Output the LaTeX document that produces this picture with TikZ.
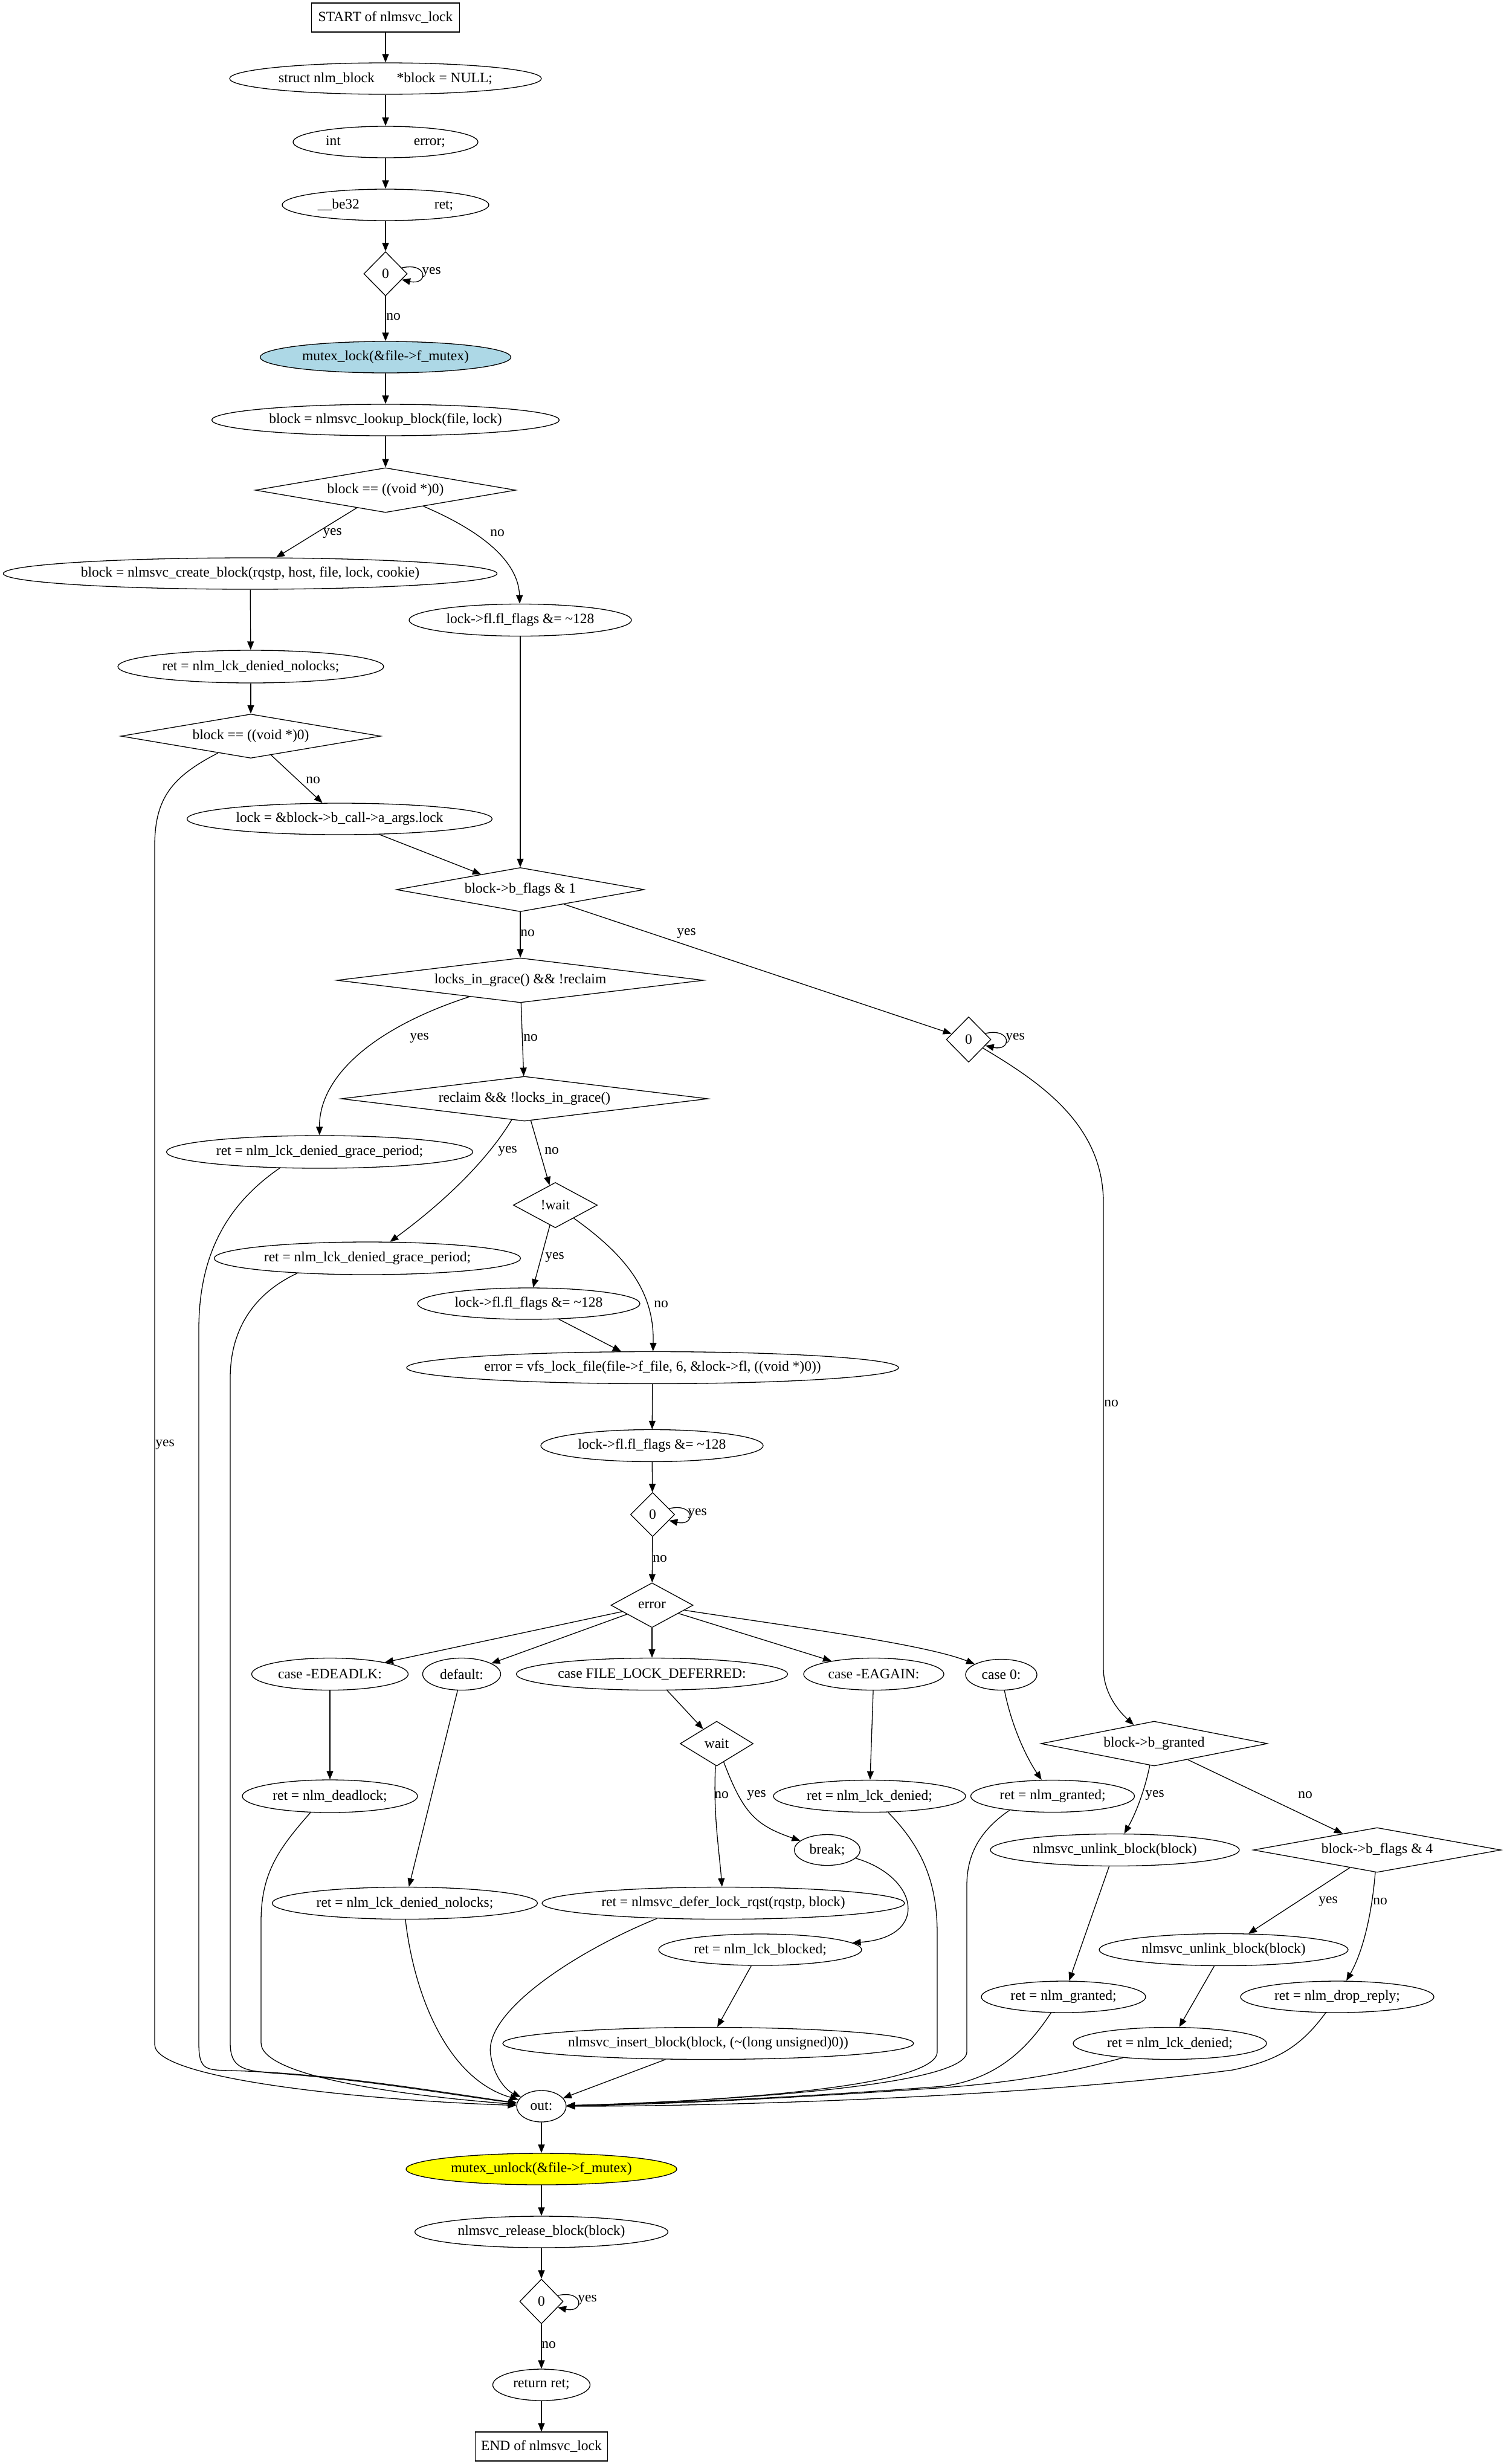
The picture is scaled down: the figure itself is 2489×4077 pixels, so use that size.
\documentclass[tikz,border=0pt]{standalone}
\usepackage{fontspec}
\setmainfont{Liberation Serif}
\usetikzlibrary{shapes.geometric,arrows.meta}
\definecolor{lblue}{HTML}{ADD8E6}
\definecolor{yel}{HTML}{FFFF00}
\begin{document}
\begin{tikzpicture}[x=1pt,y=-1pt,
  font=\fontsize{23.5}{27}\selectfont,
  line width=1.3pt,
  ell/.style={ellipse, draw, inner sep=0pt, minimum height=52pt},
  boxn/.style={rectangle, draw, inner sep=0pt},
  dia/.style={diamond, draw, inner sep=0pt},
  lbl/.style={inner sep=0pt},
  arr/.style={-{Triangle[length=14pt,width=11pt]}}]
\useasboundingbox (0,0) rectangle (2489,4077);

% ---- nodes ----
\node[boxn, minimum width=245pt, minimum height=48pt] (n1) at (638,29) {START of nlmsvc\_lock};
\node[ell, minimum width=516pt] (n2) at (638,130) {struct nlm\_block\hspace{37pt}*block = NULL;};
\node[ell, minimum width=306pt] (n3) at (638,235) {int\hspace{121pt}error;};
\node[ell, minimum width=342pt] (n4) at (638,339) {\_\_be32\hspace{124pt}ret;};
\node[dia, minimum width=72pt, minimum height=73pt] (n5) at (638,453) {0};
\node[ell, minimum width=415pt, fill=lblue] (n6) at (638,591) {mutex\_lock(\&file->f\_mutex)};
\node[ell, minimum width=575pt] (n7) at (638,695) {block = nlmsvc\_lookup\_block(file, lock)};
\node[dia, minimum width=431pt, minimum height=74pt, aspect=5.8] (d1) at (638,811) {block == ((void *)0)};
\node[ell, minimum width=817pt] (create) at (414,949) {block = nlmsvc\_create\_block(rqstp, host, file, lock, cookie)};
\node[ell, minimum width=368pt, minimum height=53pt] (flagsA) at (861,1026) {lock->fl.fl\_flags \&= \textasciitilde128};
\node[ell, minimum width=440pt, minimum height=54pt] (nolocksA) at (415,1103) {ret = nlm\_lck\_denied\_nolocks;};
\node[dia, minimum width=430pt, minimum height=73pt, aspect=5.9] (d2) at (415,1218) {block == ((void *)0)};
\node[ell, minimum width=505pt] (lockargs) at (562,1355) {lock = \&block->b\_call->a\_args.lock};
\node[dia, minimum width=410pt, minimum height=73pt, aspect=5.6] (d3) at (861,1472) {block->b\_flags \& 1};
\node[dia, minimum width=607pt, minimum height=74pt, aspect=8.2] (d4) at (861,1622) {locks\_in\_grace() \&\& !reclaim};
\node[dia, minimum width=74pt, minimum height=75pt] (dz2) at (1603,1720) {0};
\node[dia, minimum width=607pt, minimum height=74pt, aspect=8.2] (d5) at (868,1818) {reclaim \&\& !locks\_in\_grace()};
\node[ell, minimum width=507pt, minimum height=54pt] (grace1) at (529,1906) {ret = nlm\_lck\_denied\_grace\_period;};
\node[dia, minimum width=139pt, minimum height=75pt, aspect=1.85] (nwait) at (919,1994) {!wait};
\node[ell, minimum width=507pt, minimum height=54pt] (grace2) at (608,2082) {ret = nlm\_lck\_denied\_grace\_period;};
\node[ell, minimum width=368pt] (flagsB) at (875,2157) {lock->fl.fl\_flags \&= \textasciitilde128};
\node[ell, minimum width=814pt, minimum height=53pt] (vfs) at (1080,2263) {error = vfs\_lock\_file(file->f\_file, 6, \&lock->fl, ((void *)0))};
\node[ell, minimum width=368pt, minimum height=53pt] (flagsC) at (1079,2392) {lock->fl.fl\_flags \&= \textasciitilde128};
\node[dia, minimum width=73pt, minimum height=73pt] (dz3) at (1080,2506) {0};
\node[dia, minimum width=136pt, minimum height=74pt, aspect=1.84] (derr) at (1079,2656) {error};
\node[ell, minimum width=259pt, minimum height=53pt] (cdead) at (546,2770) {case -EDEADLK:};
\node[ell, minimum width=129pt, minimum height=53pt] (cdef) at (764,2770) {default:};
\node[ell, minimum width=449pt, minimum height=53pt] (cfld) at (1079,2770) {case FILE\_LOCK\_DEFERRED:};
\node[ell, minimum width=232pt, minimum height=53pt] (ceag) at (1446,2770) {case -EAGAIN:};
\node[ell, minimum width=118pt, minimum height=51pt] (czero) at (1657,2771) {case 0:};
\node[dia, minimum width=121pt, minimum height=74pt, aspect=1.64] (dwait) at (1186,2885) {wait};
\node[dia, minimum width=375pt, minimum height=74pt, aspect=5.07] (bgr) at (1910,2885) {block->b\_granted};
\node[ell, minimum width=290pt, minimum height=54pt] (rdead) at (546,2972) {ret = nlm\_deadlock;};
\node[ell, minimum width=318pt, minimum height=53pt] (rdenA) at (1439,2972) {ret = nlm\_lck\_denied;};
\node[ell, minimum width=271pt, minimum height=53pt] (rgrA) at (1742,2972) {ret = nlm\_granted;};
\node[ell, minimum width=109pt, minimum height=51pt] (brk) at (1369,3061) {break;};
\node[ell, minimum width=412pt, minimum height=53pt] (unlA) at (1845,3061) {nlmsvc\_unlink\_block(block)};
\node[dia, minimum width=410pt, minimum height=74pt, aspect=5.54] (df4) at (2279,3061) {block->b\_flags \& 4};
\node[ell, minimum width=439pt, minimum height=53pt] (nolocksB) at (670,3149) {ret = nlm\_lck\_denied\_nolocks;};
\node[ell, minimum width=600pt, minimum height=53pt] (defer) at (1197,3149) {ret = nlmsvc\_defer\_lock\_rqst(rqstp, block)};
\node[ell, minimum width=336pt] (blocked) at (1258,3226) {ret = nlm\_lck\_blocked;};
\node[ell, minimum width=412pt, minimum height=53pt] (unlB) at (2025,3226) {nlmsvc\_unlink\_block(block)};
\node[ell, minimum width=272pt] (rgrB) at (1760,3304) {ret = nlm\_granted;};
\node[ell, minimum width=320pt] (rdrop) at (2213,3304) {ret = nlm\_drop\_reply;};
\node[ell, minimum width=680pt, minimum height=53pt] (insert) at (1172,3381) {nlmsvc\_insert\_block(block, (\textasciitilde(long unsigned)0))};
\node[ell, minimum width=320pt, minimum height=53pt] (rdenB) at (1936,3381) {ret = nlm\_lck\_denied;};
\node[ell, minimum width=82pt] (out) at (896,3485) {out:};
\node[ell, minimum width=448pt, fill=yel] (unlock) at (896,3589) {mutex\_unlock(\&file->f\_mutex)};
\node[ell, minimum width=419pt] (release) at (896,3693) {nlmsvc\_release\_block(block)};
\node[dia, minimum width=72pt, minimum height=74pt] (dz4) at (896,3808) {0};
\node[ell, minimum width=161pt] (retn) at (896,3946) {return ret;};
\node[boxn, minimum width=219pt, minimum height=48pt] (nend) at (896,4048) {END of nlmsvc\_lock};

% ---- labels ----
\node[lbl] (l1) at (714,450) {yes};
\node[lbl] (l2) at (651,524) {no};
\node[lbl] (l3) at (550,882) {yes};
\node[lbl] (l4) at (823,882) {no};
\node[lbl] (l5) at (518,1291) {no};
\node[lbl] (l6) at (273,2390) {yes};
\node[lbl] (l7) at (873,1544) {no};
\node[lbl] (l8) at (1136,1544) {yes};
\node[lbl] (l9) at (1680,1717) {yes};
\node[lbl] (l10) at (694,1717) {yes};
\node[lbl] (l11) at (878,1717) {no};
\node[lbl] (l12) at (840,1904) {yes};
\node[lbl] (l13) at (913,1904) {no};
\node[lbl] (l14) at (918,2080) {yes};
\node[lbl] (l15) at (1094,2158) {no};
\node[lbl] (l16) at (1839,2322) {no};
\node[lbl] (l17) at (1154,2504) {yes};
\node[lbl] (l18) at (1092,2579) {no};
\node[lbl] (l19) at (1194,2970) {no};
\node[lbl] (l20) at (1252,2970) {yes};
\node[lbl] (l21) at (1911,2970) {yes};
\node[lbl] (l22) at (2160,2970) {no};
\node[lbl] (l23) at (2198,3146) {yes};
\node[lbl] (l24) at (2284,3146) {no};
\node[lbl] (l25) at (972,3805) {yes};
\node[lbl] (l26) at (908,3880) {no};

% ---- straight connectors ----
\draw[arr] (n1) -- (n2);
\draw[arr] (n2) -- (n3);
\draw[arr] (n3) -- (n4);
\draw[arr] (n4) -- (n5);
\draw[arr] (n5) -- (n6);
\draw[arr] (n6) -- (n7);
\draw[arr] (n7) -- (d1);
\draw[arr] (d1) -- (create);
\draw[arr] (create) -- (nolocksA);
\draw[arr] (nolocksA) -- (d2);
\draw[arr] (d2) -- (lockargs);
\draw[arr] (flagsA) -- (d3);
\draw[arr] (lockargs) -- (d3);
\draw[arr] (d3) -- (d4);
\draw[arr] (d3) -- (dz2);
\draw[arr] (d4) -- (d5);
\draw[arr] (d5) -- (nwait);
\draw[arr] (nwait) -- (flagsB);
\draw[arr] (flagsB) -- (vfs);
\draw[arr] (vfs) -- (flagsC);
\draw[arr] (flagsC) -- (dz3);
\draw[arr] (dz3) -- (derr);
\draw[arr] (derr) -- (cdead);
\draw[arr] (derr) -- (cdef);
\draw[arr] (derr) -- (cfld);
\draw[arr] (derr) -- (ceag);
\draw[arr] (cfld) -- (dwait);
\draw[arr] (cdead) -- (rdead);
\draw[arr] (cdef) -- (nolocksB);
\draw[arr] (ceag) -- (rdenA);
\draw[arr] (bgr) -- (df4);
\draw[arr] (df4) -- (unlB);
\draw[arr] (unlA) -- (rgrB);
\draw[arr] (unlB) -- (rdenB);
\draw[arr] (blocked) -- (insert);
\draw[arr] (insert) -- (out);
\draw[arr] (out) -- (unlock);
\draw[arr] (unlock) -- (release);
\draw[arr] (release) -- (dz4);
\draw[arr] (dz4) -- (retn);
\draw[arr] (retn) -- (nend);

% ---- self loops ----
\draw[arr] (n5.20) .. controls +(44,-10) and +(44,10) .. (n5.-20);
\draw[arr] (dz2.20) .. controls +(44,-10) and +(44,10) .. (dz2.-20);
\draw[arr] (dz3.20) .. controls +(44,-10) and +(44,10) .. (dz3.-20);
\draw[arr] (dz4.20) .. controls +(44,-10) and +(44,10) .. (dz4.-20);

% ---- curved connectors ----
\draw[arr] (d1) .. controls (800,880) and (858,930) .. (flagsA);
\draw[arr] (d4) .. controls (620,1700) and (528,1780) .. (grace1);
\draw[arr] (d5) .. controls (800,1930) and (720,2000) .. (grace2);
\draw[arr] (nwait) .. controls (1040,2080) and (1083,2140) .. (vfs);
\draw[arr] (dz2) .. controls (1720,1790) and (1826,1860) .. (1826,1990) -- (1826,2760) .. controls (1826,2800) and (1850,2830) .. (bgr);
\draw[arr] (derr) .. controls (1300,2690) and (1530,2720) .. (czero);
\draw[arr] (dwait) .. controls (1180,3000) and (1190,3060) .. (defer);
\draw[arr] (dwait) .. controls (1230,3000) and (1250,3020) .. (brk);
\draw[arr] (brk) .. controls (1520,3105) and (1540,3205) .. (blocked);
\draw[arr] (czero) .. controls (1675,2860) and (1700,2910) .. (rgrA);
\draw[arr] (bgr) .. controls (1895,2960) and (1880,3000) .. (unlA);
\draw[arr] (df4) .. controls (2270,3170) and (2255,3230) .. (rdrop);

% ---- connectors into out ----
\draw[arr] (d2) .. controls (285,1285) and (256,1320) .. (256,1400) -- (256,3383) .. controls (256,3440) and (600,3475) .. (out);
\draw[arr] (grace1.-158) .. controls (380,1990) and (329,2070) .. (329,2200) -- (329,3380) .. controls (329,3425) and (340,3425) .. (380,3426) .. controls (550,3430) and (750,3465) .. (out);
\draw[arr] (grace2.-168) .. controls (420,2140) and (381,2200) .. (381,2280) -- (381,3380) .. controls (381,3420) and (400,3426) .. (450,3430) .. controls (600,3440) and (760,3468) .. (out);
\draw[arr] (rdead.-140) .. controls (460,3060) and (432,3100) .. (432,3180) -- (432,3380) .. controls (432,3440) and (700,3470) .. (out);
\draw[arr] (nolocksB.-88) .. controls (685,3300) and (740,3440) .. (out);
\draw[arr] (defer.-167) .. controls (950,3230) and (800,3330) .. (812,3400) .. controls (818,3440) and (840,3460) .. (out);
\draw[arr] (rdenA.-41) .. controls (1530,3060) and (1551,3120) .. (1551,3200) -- (1551,3395) .. controls (1551,3460) and (1100,3480) .. (out);
\draw[arr] (rgrA.-162) .. controls (1620,3030) and (1600,3070) .. (1600,3120) -- (1600,3395) .. controls (1600,3455) and (1150,3478) .. (out);
\draw[arr] (rgrB.-128) .. controls (1700,3390) and (1650,3440) .. (1560,3452) .. controls (1300,3472) and (1100,3480) .. (out);
\draw[arr] (rdenB.-163) .. controls (1750,3435) and (1650,3448) .. (1550,3455) .. controls (1300,3472) and (1100,3482) .. (out);
\draw[arr] (rdrop.-126) .. controls (2150,3390) and (2110,3410) .. (2040,3425) .. controls (1700,3470) and (1200,3485) .. (out);
\end{tikzpicture}
\end{document}
